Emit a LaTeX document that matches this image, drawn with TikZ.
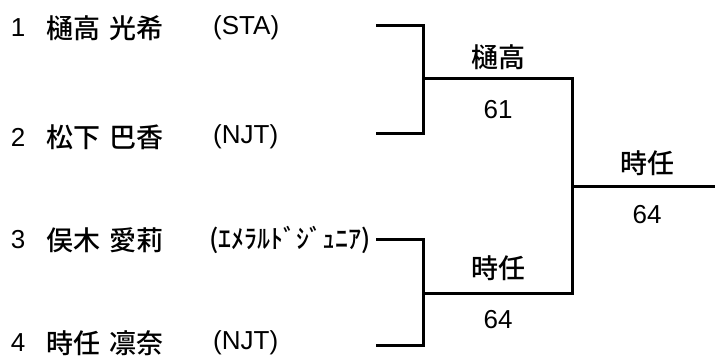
\documentclass[tikz,border=0pt]{standalone}
\usepackage{fontspec}
\setmainfont{Noto Sans CJK JP Medium}
\newfontfamily\latinfont{Liberation Sans}
\usepackage{tikz}

\begin{document}
\begin{tikzpicture}[x=1pt,y=-1pt]
\tikzstyle{txt} =[inner sep=0pt,font=\fontsize{27}{27}\selectfont]
\tikzstyle{latin} =[font=\fontsize{26}{26}\selectfont\latinfont]
\tikzstyle{seed} =[txt,latin,anchor=center]
\tikzstyle{player} =[txt,anchor=west]
\tikzstyle{win} =[txt,anchor=center]
\tikzstyle{bracket} =[line width=3pt,line cap=rect]
\useasboundingbox (0,0) rectangle (715,361);

% players
\node[seed](n1) at (18,28){1};
\node[player](p1) at (46,28){樋高\hspace{0.35em}光希};
\node[player,latin](c1) at (213,28){(STA)};
\node[seed](n2) at (18,137){2};
\node[player](p2) at (46,137){松下\hspace{0.35em}巴香};
\node[player,latin](c2) at (213,137){(NJT)};
\node[seed](n3) at (18,240){3};
\node[player](p3) at (46,240){俣木\hspace{0.35em}愛莉};
\node[player,font=\fontsize{26}{26}\selectfont](c3) at (209,240){(ｴﾒﾗﾙﾄﾞｼﾞｭﾆｱ)};
\node[seed](n4) at (18,343){4};
\node[player](p4) at (46,343){時任\hspace{0.35em}凛奈};
\node[player,latin](c4) at (213,343){(NJT)};

% bracket points
\coordinate (e1) at (377,26);
\coordinate (e2) at (377,133);
\coordinate (e3) at (377,239);
\coordinate (e4) at (377,345);
\coordinate (m1) at (423,79);
\coordinate (m2) at (423,293);
\coordinate (f) at (572,186);
\coordinate (end) at (715,186);

\draw [bracket] (e1) -| (m1) |- (e2);
\draw [bracket] (e3) -| (m2) |- (e4);
\draw [bracket] (m1) -| (f) |- (m2);
\draw [bracket] (f) -- (end);

% results
\node[win](w1) at (498,57){樋高};
\node[win,latin](s1) at (498,110){61};
\node[win](w2) at (498,268){時任};
\node[win,latin](s2) at (498,320){64};
\node[win](w3) at (647,163){時任};
\node[win,latin](s3) at (647,215){64};
\end{tikzpicture}
\end{document}
